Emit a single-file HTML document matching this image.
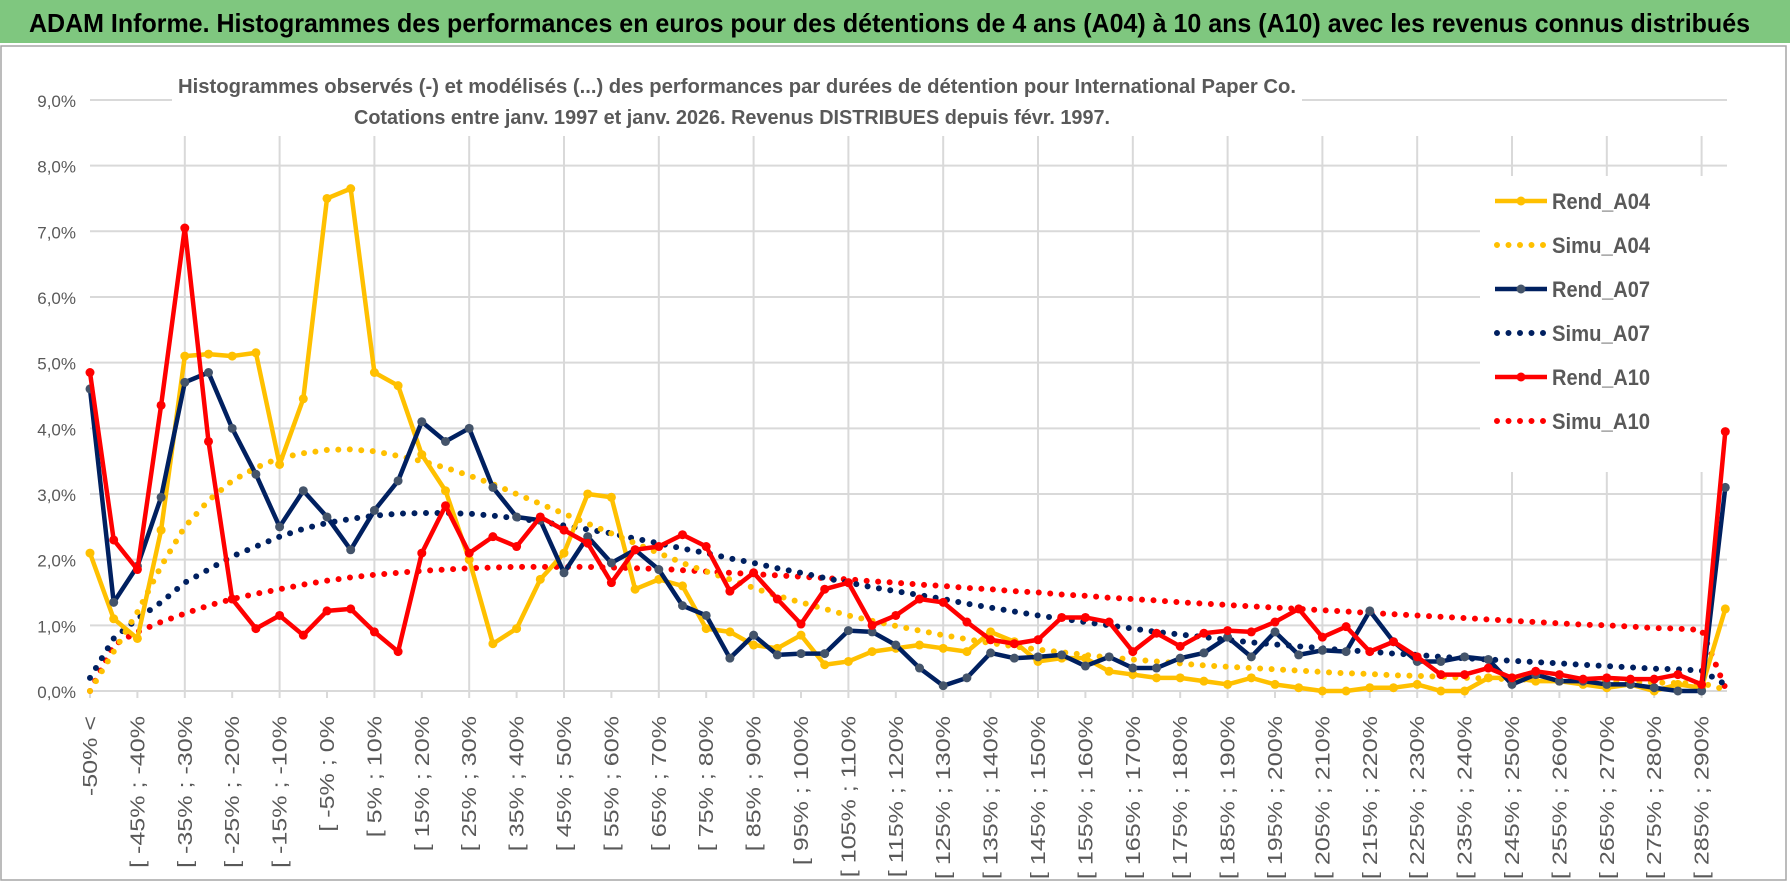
<!DOCTYPE html>
<html><head><meta charset="utf-8"><style>
html,body{margin:0;padding:0;background:#fff;}
svg{display:block;font-family:"Liberation Sans",sans-serif;}
</style></head><body>
<svg id="chart" width="1790" height="888" viewBox="0 0 1790 888">
<rect x="0" y="0" width="1790" height="888" fill="#fff"/>
<rect x="1" y="46" width="1785" height="834" fill="#fff" stroke="#a6a6a6" stroke-width="1.5"/>
<rect x="0" y="0" width="1790" height="43" fill="#7fc77f"/>
<text x="29" y="32" font-size="26" font-weight="bold" fill="#000" textLength="1721" lengthAdjust="spacingAndGlyphs">ADAM Informe. Histogrammes des performances en euros pour des détentions de 4 ans (A04) à 10 ans (A10) avec les revenus connus distribués</text>
<g id="grid"></g>
<rect x="172" y="70" width="1130" height="66" fill="#fff"/>
<rect x="1480" y="176" width="300" height="296" fill="#fff"/>
<text x="737" y="93" font-size="20" font-weight="bold" fill="#595959" text-anchor="middle" textLength="1118" lengthAdjust="spacingAndGlyphs">Histogrammes observés (-) et modélisés (...) des performances par durées de détention pour International Paper Co.</text>
<text x="732" y="124" font-size="20" font-weight="bold" fill="#595959" text-anchor="middle" textLength="756" lengthAdjust="spacingAndGlyphs">Cotations entre janv. 1997 et janv. 2026. Revenus DISTRIBUES depuis févr. 1997.</text>
<g id="series"></g>
<g id="legend"></g>
</svg>
<script>
const categories = [];
const simuA04 = [0,0.6,1.2,1.9,2.5,2.9,3.2,3.4,3.55,3.62,3.67,3.68,3.65,3.58,3.5,3.4,3.28,3.15,3.0,2.85,2.7,2.55,2.4,2.25,2.1,1.95,1.82,1.7,1.57,1.45,1.35,1.25,1.15,1.07,0.99,0.92,0.85,0.79,0.73,0.68,0.63,0.59,0.55,0.51,0.48,0.45,0.42,0.39,0.37,0.35,0.33,0.31,0.29,0.27,0.26,0.24,0.23,0.22,0.2,0.19,0.18,0.17,0.16,0.15,0.14,0.14,0.13,0.12,0.12,0.02];
const simuA07 = [0.2,0.8,1.1,1.35,1.65,1.85,2.05,2.2,2.35,2.47,2.56,2.62,2.67,2.7,2.71,2.71,2.7,2.67,2.63,2.58,2.52,2.46,2.4,2.32,2.25,2.17,2.1,2.02,1.95,1.87,1.8,1.72,1.65,1.58,1.52,1.46,1.4,1.33,1.27,1.21,1.15,1.1,1.05,1.0,0.95,0.9,0.86,0.82,0.78,0.74,0.71,0.68,0.65,0.62,0.6,0.57,0.55,0.52,0.5,0.48,0.46,0.44,0.42,0.4,0.38,0.36,0.34,0.33,0.31,0.1];
const simuA10 = [0,0.7,0.9,1.05,1.18,1.3,1.4,1.48,1.55,1.62,1.68,1.73,1.77,1.8,1.83,1.85,1.87,1.88,1.89,1.89,1.89,1.89,1.88,1.87,1.86,1.84,1.82,1.8,1.78,1.76,1.74,1.72,1.7,1.67,1.65,1.62,1.6,1.57,1.55,1.52,1.5,1.47,1.45,1.42,1.4,1.38,1.35,1.33,1.31,1.29,1.27,1.25,1.23,1.21,1.19,1.17,1.15,1.13,1.11,1.09,1.07,1.05,1.03,1.01,1.0,0.98,0.96,0.95,0.93,0.05];
const rendA04 = [2.1,1.1,0.8,2.45,5.1,5.13,5.1,5.15,3.45,4.45,7.5,7.65,4.85,4.65,3.6,3.05,2.0,0.72,0.95,1.7,2.1,3.0,2.95,1.55,1.7,1.6,0.95,0.9,0.7,0.65,0.85,0.4,0.45,0.6,0.65,0.7,0.65,0.6,0.9,0.75,0.45,0.5,0.5,0.3,0.25,0.2,0.2,0.15,0.1,0.2,0.1,0.05,0,0,0.05,0.05,0.1,0,0,0.2,0.2,0.15,0.15,0.1,0.05,0.1,0,0.1,0.05,1.25];
const rendA07 = [4.6,1.35,1.9,2.95,4.7,4.85,4.0,3.3,2.5,3.05,2.65,2.15,2.75,3.2,4.1,3.8,4.0,3.1,2.65,2.6,1.8,2.35,1.95,2.15,1.85,1.3,1.15,0.5,0.85,0.55,0.57,0.57,0.92,0.9,0.7,0.35,0.08,0.2,0.58,0.5,0.52,0.55,0.38,0.52,0.35,0.35,0.5,0.58,0.82,0.52,0.9,0.55,0.62,0.6,1.22,0.75,0.45,0.45,0.52,0.48,0.1,0.25,0.15,0.15,0.1,0.1,0.05,0,0,3.1];
const rendA10 = [4.85,2.3,1.85,4.35,7.05,3.8,1.4,0.95,1.15,0.85,1.22,1.25,0.9,0.6,2.1,2.82,2.1,2.35,2.2,2.65,2.45,2.25,1.65,2.15,2.2,2.38,2.2,1.52,1.8,1.4,1.02,1.55,1.65,1.0,1.15,1.4,1.35,1.05,0.78,0.72,0.78,1.12,1.12,1.05,0.6,0.88,0.68,0.88,0.92,0.9,1.05,1.25,0.82,0.98,0.6,0.75,0.52,0.25,0.25,0.35,0.2,0.3,0.25,0.18,0.2,0.18,0.18,0.25,0.1,3.95];
const yTicks = [0,1,2,3,4,5,6,7,8,9];
categories.push('-50% <');
for (let i = 1; i < rendA04.length; i++) { const a = -50 + 5*(i-1); categories.push('[ ' + a + '% ; ' + (a+5) + '%'); }

const NS = 'http://www.w3.org/2000/svg';
const X0 = 90, DX = 23.7, Y0 = 691, YK = 65.67;
const xs = i => X0 + i*DX;
const ys = v => Y0 - v*YK;
function mk(tag, attrs, parent){ const e=document.createElementNS(NS,tag); for(const k in attrs) e.setAttribute(k,attrs[k]); parent.appendChild(e); return e; }
const grid = document.getElementById('grid');
yTicks.forEach(t=>{
  const l = mk('line',{x1:X0,x2:1727,y1:ys(t),y2:ys(t),stroke:'#d9d9d9','stroke-width':2},grid);
  
  
  const tx = mk('text',{x:76,y:ys(t)+7,'font-size':17,fill:'#595959','text-anchor':'end'},grid);
  tx.textContent = t.toFixed(1).replace('.',',') + '%';
  
  
});
for (let i = 4; i < categories.length; i += 4) {
  const l = mk('line',{x1:xs(i),x2:xs(i),y1:136,y2:Y0,stroke:'#d9d9d9','stroke-width':2},grid);
  
  
}
for (let i = 0; i < categories.length; i += 2) {
  const tk = mk('line',{x1:xs(i),x2:xs(i),y1:Y0,y2:Y0+7,stroke:'#d9d9d9','stroke-width':2},grid);
  
  
  const tx = mk('text',{x:0,y:0,'font-size':19,fill:'#595959','text-anchor':'end',transform:'translate('+(xs(i)+7)+',716) rotate(-90) scale(1.32,1.05)'},grid);
  tx.textContent = categories[i];
  
  
}
const series = document.getElementById('series');
function dotted(vals,color,name){
  const p = mk('polyline',{points:vals.map((v,i)=>xs(i)+','+ys(v)).join(' '),fill:'none',stroke:color,'stroke-width':6,'stroke-linecap':'round','stroke-dasharray':'0 11.5'},series);
  
  
}
function solid(vals,color,mcol,name){
  const g = mk('g',{},series);
  
  
  mk('polyline',{points:vals.map((v,i)=>xs(i)+','+ys(v)).join(' '),fill:'none',stroke:color,'stroke-width':4.5,'stroke-linejoin':'round'},g);
  vals.forEach((v,i)=>{
    const c = mk('circle',{cx:xs(i),cy:ys(v),r:4.5,fill:mcol},g);
    
    
  });
}
dotted(simuA10,'#ff0000','simu-a10-line');
dotted(simuA07,'#002060','simu-a07-line');
dotted(simuA04,'#ffc000','simu-a04-line');
solid(rendA04,'#ffc000','#ffc000','rend-a04-line');
solid(rendA07,'#002060','#44546a','rend-a07-line');
solid(rendA10,'#ff0000','#ff0000','rend-a10-line');

const legendNames = ['Rend_A04','Simu_A04','Rend_A07','Simu_A07','Rend_A10','Simu_A10'];
const legendColors = ['#ffc000','#ffc000','#002060','#002060','#ff0000','#ff0000'];
const legend = document.getElementById('legend');
legendNames.forEach((n,k)=>{
  const y = 201 + k*44;
  const g = mk('g',{},legend);
  
  
  if (n.startsWith('Rend')) {
    mk('line',{x1:1495,x2:1547,y1:y,y2:y,stroke:legendColors[k],'stroke-width':4.5},g);
    mk('circle',{cx:1521,cy:y,r:4.5,fill:k===2?'#44546a':legendColors[k]},g);
  } else {
    mk('line',{x1:1497,x2:1547,y1:y,y2:y,stroke:legendColors[k],'stroke-width':6,'stroke-linecap':'round','stroke-dasharray':'0 11.5'},g);
  }
  const t = mk('text',{x:1552,y:y+8,'font-size':22,'font-weight':'bold',fill:'#595959',textLength:98,lengthAdjust:'spacingAndGlyphs'},g);
  t.textContent = n;
});
</script>
</body></html>
